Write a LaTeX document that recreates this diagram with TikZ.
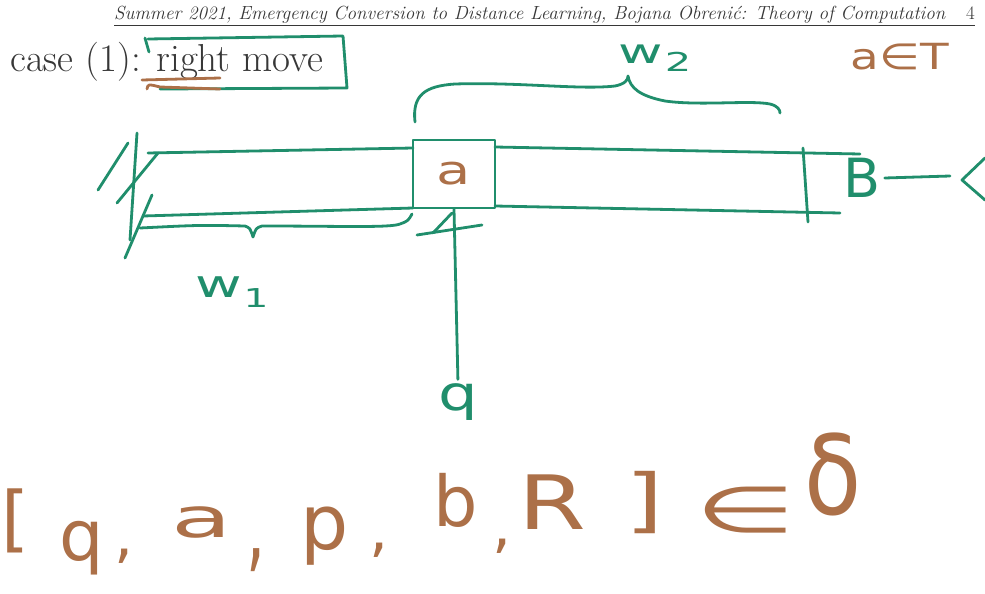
\documentclass[tikz,border=0pt]{standalone}
\usepackage{fontspec}
\newfontfamily\hand{DejaVu Sans}
\definecolor{pen}{RGB}{32,142,108}
\definecolor{ink}{RGB}{172,112,72}
\definecolor{txt}{RGB}{55,55,55}
\begin{document}
\begin{tikzpicture}[x=1pt,y=-1pt,
  gstroke/.style={draw=pen,line width=2.8pt,line cap=round,line join=round},
  bstroke/.style={draw=ink,line width=2.8pt,line cap=round,line join=round},
  gtext/.style={text=pen,inner sep=0pt},
  btext/.style={text=ink,inner sep=0pt},
]
\useasboundingbox[fill=white] (0,0) rectangle (985,594);
\clip (0,0) rectangle (985,594);

% header
\node[anchor=base west, inner sep=0pt, text=txt, font=\fontsize{19}{21}\selectfont\itshape] (hdr) at (114,20)
  {Summer 2021, Emergency Conversion to Distance Learning, Bojana Obrenić: Theory of Computation};
\node[anchor=base west, inner sep=0pt, text=txt, font=\fontsize{19}{21}\selectfont] (pg) at (966,20) {4};
\draw[txt, line width=1pt] ([yshift=-6pt]hdr.base west) -- ([yshift=-6pt]pg.base east);

% case line
\node[anchor=base west, inner sep=0pt, text=txt, font=\fontsize{39}{42}\selectfont] (case) at (10,72) {case (1): right move};
\draw[gstroke] (145,38) -- (149,52);
\draw[gstroke] (148,39) -- (343,36) -- (347,88) -- (160,89);
\draw[bstroke] (142,80) -- (220,78);
\draw[bstroke] (147,89) .. controls (148,84) .. (160,87) -- (220,89);

% a in Gamma
\node[btext, font=\hand\fontsize{36}{36}\selectfont, xscale=1.3] (aT) at (900,57) {a∈T};

% w2 brace and label
\draw[gstroke] (415,122) .. controls (412,95) and (425,86) .. (455,84)
  .. controls (520,82) and (580,90) .. (615,86)
  .. controls (625,84) and (628,80) .. (628,76)
  .. controls (630,88) and (640,96) .. (665,101)
  .. controls (700,106) and (750,100) .. (770,104)
  .. controls (778,106) and (780,110) .. (780,113);
\node[gtext, font=\hand\fontsize{34}{34}\selectfont, xscale=1.6] (w2) at (655,58) {w\kern1pt\raisebox{-8pt}{\fontsize{26}{26}\selectfont 2}};

% tape
\draw[gstroke] (98,190) -- (128,143);
\draw[gstroke] (137,133) -- (130,240);
\draw[gstroke] (117,203) -- (158,153);
\draw[gstroke] (125,258) -- (152,195);
\draw[gstroke] (148,153) -- (413,148);
\draw[gstroke] (495,147) -- (860,154);
\draw[gstroke] (143,216) -- (413,208);
\draw[gstroke] (495,206) -- (840,213);
\draw[gstroke] (803,148) -- (808,222);
\node[gstroke, minimum width=82pt, minimum height=68pt, inner sep=0pt] (cell) at (454,174) {};
\node[btext, font=\hand\fontsize{40}{40}\selectfont, xscale=1.4] (sa) at (cell.center) {a};

% blank and arrow
\node[gtext, font=\hand\fontsize{54}{54}\selectfont] (blank) at (862,178) {B};
\coordinate (arrend) at (950,176);
\draw[gstroke] (blank.east) ++(4pt,0) -- (arrend);
\draw[gstroke] (985,158) -- (962,180) -- (985,200);

% w1 brace and label
\draw[gstroke] (140,228) .. controls (200,225) .. (245,226)
  .. controls (250,228) .. (253,237)
  .. controls (256,228) .. (262,226)
  .. controls (340,226) and (390,228) .. (400,224)
  .. controls (408,221) .. (412,214);
\node[gtext, font=\hand\fontsize{38}{38}\selectfont, xscale=1.5] (w1) at (232,292) {w\kern1pt\raisebox{-10pt}{\fontsize{26}{26}\selectfont 1}};

% head
\draw[gstroke] (417,235) -- (482,225);
\draw[gstroke] (433,233) -- (452,213);
\node[gtext, font=\hand\fontsize{48}{48}\selectfont, xscale=1.3] (qg) at (458,402) {q};
\draw[gstroke, shorten >=4pt] (cell.south) -- (qg.north);

% transition
\begin{scope}[every node/.style={btext}]
\node[font=\hand\fontsize{72}{72}\selectfont] (t1) at (16,521) {[};
\node[font=\hand\fontsize{70}{70}\selectfont] (t2) at (82,548) {q};
\node[font=\hand\fontsize{60}{60}\selectfont] (t3) at (124,556) {,};
\node[font=\hand\fontsize{55}{55}\selectfont, xscale=1.8] (t4) at (202,522) {a};
\node[font=\hand\fontsize{60}{60}\selectfont, yscale=1.6] (t5) at (256,560) {,};
\node[font=\hand\fontsize{76}{76}\selectfont] (t6) at (325,536) {p};
\node[font=\hand\fontsize{60}{60}\selectfont] (t7) at (379,550) {,};
\node[font=\hand\fontsize{70}{70}\selectfont] (t8) at (456,500) {b};
\node[font=\hand\fontsize{60}{60}\selectfont] (t9) at (502,546) {,};
\node[font=\hand\fontsize{75}{75}\selectfont, xscale=1.3] (t10) at (552,502) {R};
\node[font=\hand\fontsize{70}{70}\selectfont, xscale=1.4] (t11) at (645,503) {]};
\node[font=\hand\fontsize{64}{64}\selectfont, xscale=1.8] (t12) at (746,510) {∈};
\node[font=\hand\fontsize{110}{110}\selectfont, xscale=0.85] (t13) at (833,474) {δ};
\end{scope}
\end{tikzpicture}
\end{document}
